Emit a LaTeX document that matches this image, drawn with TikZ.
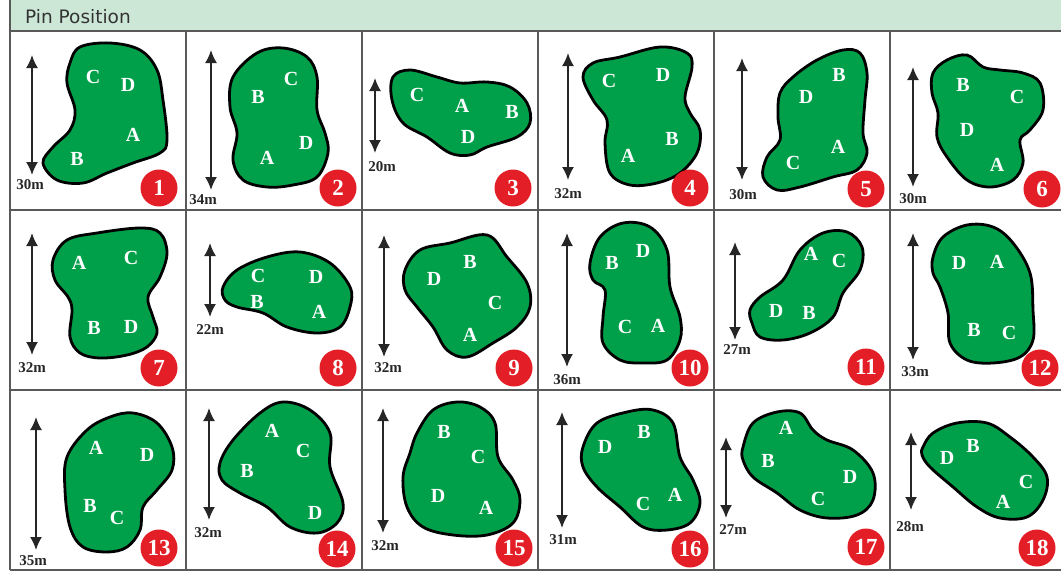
\documentclass[tikz,border=0pt]{standalone}
\usepackage{fontspec}
\setmainfont{Liberation Serif}
\newfontfamily\headfont{DejaVu Sans}
\usetikzlibrary{arrows.meta}
\definecolor{turf}{RGB}{0,160,75}
\definecolor{flagred}{RGB}{228,30,38}
\definecolor{band}{RGB}{205,231,214}

\begin{document}
\begin{tikzpicture}[x=1pt, y=-1pt,
    putting/.style={fill=turf, draw=black, line width=2.8pt, line join=round},
    pin/.style={text=white, inner sep=0pt,
                font=\bfseries\fontsize{20}{20}\selectfont},
    span/.style={{Latex[length=13pt,width=12pt]}-{Latex[length=13pt,width=12pt]},
                 line width=1.8pt, draw=black!85},
    dist/.style={text=black!85, inner sep=0pt,
                 font=\bfseries\fontsize{15}{15}\selectfont},
    holeno/.style={circle, fill=flagred, minimum size=37pt, inner sep=0pt,
                   text=white, font=\bfseries\fontsize{23}{23}\selectfont},
    rule/.style={draw=black!65, line width=1.3pt},
]
\useasboundingbox (0,0) rectangle (1061,574);

% Header band
\fill[band] (10,0) rectangle (1061,31);
\node[anchor=base west, inner sep=0pt, text=black!80,
      font=\headfont\fontsize{18.5}{18.5}\selectfont] (title) at (25,23) {Pin Position};

% Grid
\draw[rule] (10,0) -- (10,570);
\foreach \x in {186,362,538,714,890}
  \draw[rule] (\x,31) -- (\x,570);
\foreach \y in {31,210,390,570}
  \draw[rule] (10,\y) -- (1061,\y);

% Row 1 greens
\filldraw[putting] plot[smooth cycle, tension=.6] coordinates {(70,63) (80,47) (110,43) (140,50) (157,70) (163,100) (167,140) (160,153) (133,163) (107,173) (83,183) (57,180) (43,163) (53,147) (70,130) (75,110) (67,83)};
\filldraw[putting] plot[smooth cycle, tension=.6] coordinates {(233,77) (257,53) (283,48) (307,57) (317,77) (317,110) (325,133) (328,153) (317,177) (293,185) (267,187) (243,180) (233,160) (237,133) (230,107)};
\filldraw[putting] plot[smooth cycle, tension=.6] coordinates {(393,77) (410,70) (437,77) (460,83) (487,82) (510,87) (527,103) (530,123) (517,137) (487,147) (470,155) (450,153) (427,137) (403,123) (392,100)};
\filldraw[putting] plot[smooth cycle, tension=.6] coordinates {(583,77) (593,63) (620,57) (660,47) (687,53) (692,67) (685,97) (690,113) (700,130) (697,153) (680,173) (657,183) (630,185) (610,173) (605,143) (607,120) (593,100)};
\filldraw[putting] plot[smooth cycle, tension=.6] coordinates {(780,93) (793,77) (817,60) (843,50) (860,53) (867,73) (865,100) (863,133) (867,153) (857,170) (833,177) (800,187) (777,190) (763,177) (767,157) (780,140) (778,117)};
\filldraw[putting] plot[smooth cycle, tension=.6] coordinates {(933,73) (947,60) (967,55) (983,67) (1000,70) (1023,73) (1040,83) (1043,110) (1030,130) (1020,140) (1023,163) (1013,180) (990,187) (967,180) (947,157) (937,137) (938,113) (932,93)};

% Row 2 greens
\filldraw[putting] plot[smooth cycle, tension=.6] coordinates {(53,260) (67,240) (97,233) (140,228) (160,233) (167,253) (160,277) (148,297) (153,317) (157,333) (147,347) (127,355) (100,358) (80,353) (70,337) (72,310) (68,297) (55,280)};
\filldraw[putting] plot[smooth cycle, tension=.6] coordinates {(223,287) (237,270) (267,257) (300,252) (330,263) (350,287) (350,307) (340,327) (317,333) (287,327) (263,313) (237,307) (225,300)};
\filldraw[putting] plot[smooth cycle, tension=.6] coordinates {(405,270) (420,250) (450,243) (487,235) (507,257) (527,283) (530,307) (517,327) (493,343) (467,357) (447,350) (433,327) (417,307) (405,290)};
\filldraw[putting] plot[smooth cycle, tension=.6] coordinates {(590,263) (600,237) (623,223) (650,227) (667,250) (670,287) (680,317) (680,340) (667,360) (643,363) (620,360) (603,343) (603,317) (605,290) (593,280)};
\filldraw[putting] plot[smooth cycle, tension=.6] coordinates {(750,310) (760,297) (783,280) (800,250) (823,233) (847,232) (862,247) (860,270) (843,293) (833,317) (810,333) (783,340) (760,337) (752,323)};
\filldraw[putting] plot[smooth cycle, tension=.6] coordinates {(933,257) (943,237) (967,225) (993,227) (1013,243) (1030,273) (1033,310) (1033,340) (1020,357) (993,363) (967,360) (950,343) (948,313) (940,287) (933,273)};

% Row 3 greens
\filldraw[putting] plot[smooth cycle, tension=.6] coordinates {(67,457) (87,430) (110,417) (133,413) (157,423) (172,447) (172,470) (157,490) (143,507) (140,530) (127,547) (107,552) (83,547) (70,527) (65,490)};
\filldraw[putting] plot[smooth cycle, tension=.6] coordinates {(220,463) (233,440) (260,413) (283,402) (310,410) (330,433) (330,467) (343,503) (337,523) (317,533) (290,527) (267,507) (240,493) (222,480)};
\filldraw[putting] plot[smooth cycle, tension=.6] coordinates {(417,433) (433,410) (457,402) (480,407) (495,423) (498,457) (513,480) (520,500) (513,523) (487,535) (453,535) (423,527) (407,507) (403,477) (410,453)};
\filldraw[putting] plot[smooth cycle, tension=.6] coordinates {(583,447) (597,423) (627,412) (653,410) (673,423) (680,457) (693,480) (700,503) (690,523) (667,530) (643,527) (620,507) (597,487) (583,467)};
\filldraw[putting] plot[smooth cycle, tension=.6] coordinates {(743,447) (753,423) (777,412) (800,413) (813,430) (827,440) (853,450) (873,473) (873,500) (857,515) (827,518) (800,510) (777,493) (753,477) (743,460)};
\filldraw[putting] plot[smooth cycle, tension=.6] coordinates {(923,447) (933,433) (957,423) (987,423) (1010,437) (1033,457) (1047,477) (1043,500) (1027,517) (1000,518) (977,507) (953,487) (930,467) (922,455)};

% Pin letters
\foreach \h/\l/\px/\py in {
    1/C/93/77, 1/D/128/85, 1/A/133/135, 1/B/77/159,
    2/C/291/79, 2/B/258/97, 2/D/306/143, 2/A/267/158,
    3/C/417/95, 3/A/462/106, 3/B/512/112, 3/D/468/137,
    4/C/609/81, 4/D/663/75, 4/B/672/139, 4/A/628/156,
    5/B/839/75, 5/D/806/97, 5/A/838/147, 5/C/793/163,
    6/B/963/85, 6/C/1017/97, 6/D/967/130, 6/A/997/165,
    7/A/79/263, 7/C/131/258, 7/B/94/328, 7/D/131/327,
    8/C/258/276, 8/D/316/277, 8/B/257/302, 8/A/319/312,
    9/B/470/262, 9/D/434/279, 9/C/495/303, 9/A/470/335,
    10/D/643/251, 10/B/612/263, 10/C/625/327, 10/A/658/326,
    11/A/811/254, 11/C/839/261, 11/D/776/311, 11/B/809/313,
    12/D/959/263, 12/A/997/262, 12/B/974/330, 12/C/1009/333,
    13/A/96/448, 13/D/147/455, 13/B/90/506, 13/C/117/518,
    14/A/272/431, 14/C/303/451, 14/B/247/471, 14/D/315/513,
    15/B/444/432, 15/C/478/457, 15/D/438/496, 15/A/486/508,
    16/B/644/432, 16/D/605/447, 16/A/675/495, 16/C/643/504,
    17/A/786/428, 17/B/768/461, 17/D/850/477, 17/C/818/499,
    18/D/947/458, 18/B/973/446, 18/C/1026/482, 18/A/1003/502}
  \node[pin] (p\h\l) at (\px,\py) {\l};

% Depth arrows, lengths and hole numbers
\foreach \n/\ax/\at/\ab/\lx/\ly/\d/\cx/\cy in {
    1/32/55/175/30/185/30m/159/188,
    2/211/50/190/203/200/34m/338/188,
    3/375/78/153/382/167/20m/513/188,
    4/568/53/180/568/194/32m/690/188,
    5/742/58/180/743/195/30m/866/189,
    6/913/67/187/913/199/30m/1042/189,
    7/32/233/355/32/368/32m/159/368,
    8/210/243/317/210/330/22m/338/368,
    9/384/235/357/388/368/32m/514/368,
    10/567/233/367/567/380/36m/690/368,
    11/735/242/340/737/350/27m/866/367,
    12/913/233/360/915/372/33m/1040/368,
    13/36/417/550/33/561/35m/159/548,
    14/209/408/520/208/533/32m/337/549,
    15/383/408/533/385/546/32m/514/548,
    16/562/412/528/563/540/31m/690/549,
    17/726/437/518/733/530/27m/866/547,
    18/911/432/510/910/527/28m/1037/548} {
  \coordinate (top\n) at (\ax,\at);
  \coordinate (bot\n) at (\ax,\ab);
  \draw[span] (top\n) -- (bot\n);
  \node[dist] (len\n) at (\lx,\ly) {\d};
  \node[holeno] (no\n) at (\cx,\cy) {\n};
}

\end{tikzpicture}
\end{document}
